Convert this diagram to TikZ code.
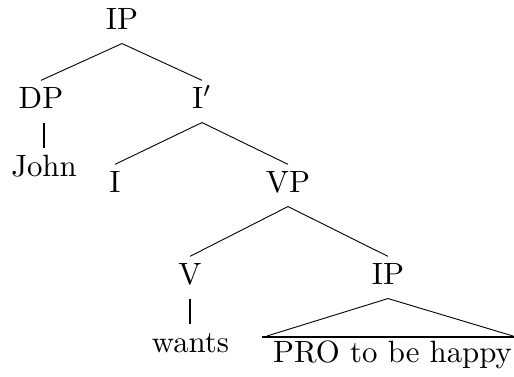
\documentclass[tikz,border=0pt]{standalone}
\begin{document}
\begin{tikzpicture}[x=1pt,y=1pt,
  lbl/.style={anchor=base, scale=3.08, font=\fontsize{10}{12}\selectfont, inner sep=0pt, text height=9.1pt, text depth=4.2pt},
  edge/.style={line width=0.9pt},
  unary/.style={line width=2.6pt},
  roof/.style={line width=2.2pt}]
\useasboundingbox (0,0) rectangle (514,377);
\node[lbl] (ip) at (122,347) {IP};
\node[lbl] (dp) at (41,268) {DP};
\node[lbl] (ibar) at (202,268) {I$'$};
\node[lbl] (john) at (44,200) {John};
\node[lbl] (i) at (115,184) {I};
\node[lbl] (vp) at (288,184) {VP};
\node[lbl] (v) at (190,92) {V};
\node[lbl] (ip2) at (388,92) {IP};
\node[lbl] (wants) at (190.5,24) {wants};
\node[lbl] (pro) at (392.5,14) {PRO to be happy};
\coordinate (bl) at (262,40);
\coordinate (br) at (514,40);
\coordinate (tl) at (267,41);
\coordinate (tr) at (513,41);
\draw[edge] (ip.south) -- (dp.north);
\draw[edge] (ip.south) -- (ibar.north);
\draw[unary] (john.north |- dp.south) -- (john.north);
\draw[edge] (ibar.south) -- (i.north);
\draw[edge] (ibar.south) -- (vp.north);
\draw[edge] (vp.south) -- (v.north);
\draw[edge] (vp.south) -- (ip2.north);
\draw[unary] (v.south) -- (v.south |- wants.north);
\draw[edge] (tl) -- (ip2.south) -- (tr);
\draw[roof] (bl) -- (br);
\end{tikzpicture}
\end{document}
